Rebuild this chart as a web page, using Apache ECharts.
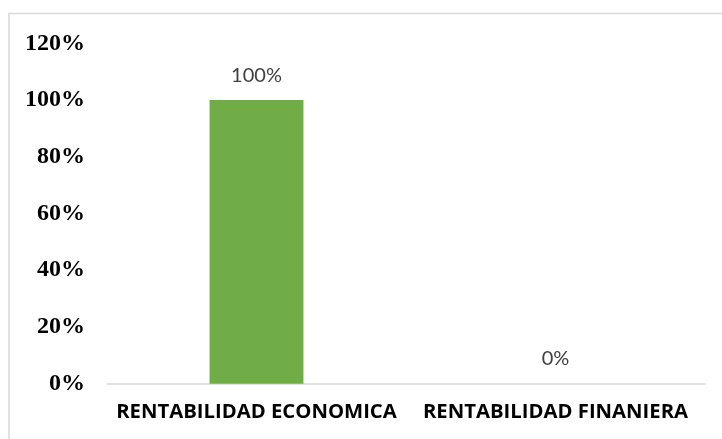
<!DOCTYPE html>
<html>
<head>
<meta charset="utf-8">
<script src="https://cdn.jsdelivr.net/npm/echarts@6/dist/echarts.min.js"></script>
<style>
html,body{margin:0;padding:0;background:#fff;}
#chart{width:722px;height:439px;}
</style>
</head>
<body>
<div id="chart"></div>
<script>
var categories = ["RENTABILIDAD ECONOMICA", "RENTABILIDAD FINANIERA"];
var values = [1.0, 0.0];
var yTicks = [0, 0.2, 0.4, 0.6, 0.8, 1.0, 1.2];

var chart = echarts.init(document.getElementById('chart'), null, {renderer: 'canvas'});
chart.setOption({
  animation: false,
  backgroundColor: '#ffffff',
  graphic: [{
    type: 'rect',
    shape: {x: 9, y: 13.5, width: 800, height: 600},
    style: {fill: 'none', stroke: '#d9d9d9', lineWidth: 1.5},
    silent: true
  }],
  grid: {left: 107, right: 17, top: 43.4, bottom: 55.3, containLabel: false},
  xAxis: {
    type: 'category',
    data: categories,
    axisLine: {show: true, lineStyle: {color: '#d9d9d9', width: 1.5}},
    axisTick: {show: false},
    axisLabel: {
      interval: 0,
      color: '#000000',
      fontFamily: '"Open Sans"',
      fontWeight: 700,
      fontSize: 20.3,
      margin: 19
    }
  },
  yAxis: {
    type: 'value',
    min: yTicks[0],
    max: yTicks[yTicks.length - 1],
    interval: 0.2,
    axisLine: {show: false},
    axisTick: {show: false},
    splitLine: {show: false},
    axisLabel: {
      color: '#000000',
      fontFamily: '"Liberation Serif"',
      fontWeight: 700,
      fontSize: 24,
      margin: 22,
      formatter: function (v) { return Math.round(v * 100) + '%'; }
    }
  },
  series: [{
    type: 'bar',
    data: values,
    barWidth: '31.4%',
    itemStyle: {color: '#70ad47'},
    label: {
      show: true,
      position: 'top',
      distance: 15,
      color: '#404040',
      fontFamily: 'Lato',
      fontSize: 20,
      formatter: function (p) { return Math.round(p.value * 100) + '%'; }
    }
  }]
});
</script>
</body>
</html>
